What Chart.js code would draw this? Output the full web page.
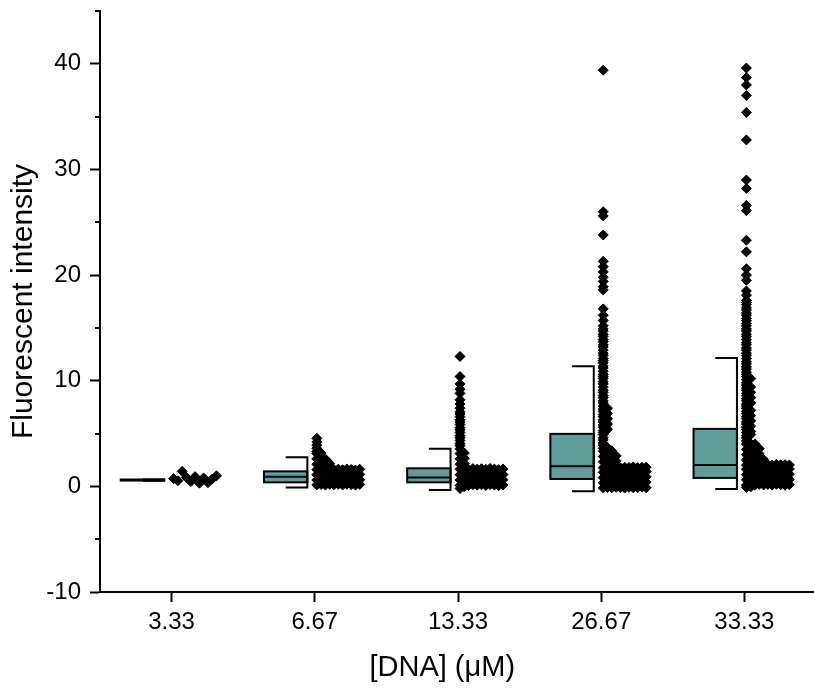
<!DOCTYPE html>
<html>
<head>
<meta charset="utf-8">
<script src="https://cdn.jsdelivr.net/npm/chart.js@4.4.0/dist/chart.umd.min.js"></script>
<style>
  html, body { margin: 0; padding: 0; background: #fff; overflow: hidden; }
  #wrap { width: 822px; height: 694px; }
</style>
</head>
<body>
<div id="wrap"><canvas id="chart"></canvas></div>
<script>
const categories = ["3.33", "6.67", "13.33", "26.67", "33.33"];

// box summary per concentration
const q1 = [0.55, 0.38, 0.38, 0.70, 0.80];
const median = [0.60, 0.92, 0.85, 1.90, 2.03];
const q3 = [0.65, 1.42, 1.71, 4.97, 5.44];
const whiskerLow = [0.52, -0.10, -0.34, -0.47, -0.25];
const whiskerHigh = [0.66, 2.75, 3.55, 11.36, 12.15];

// raw points
const pts333 = [0.73, 0.54, 1.42, 0.85, 0.45, 0.92, 0.3, 0.8, 0.35, 0.7, 1.0];

const pts667 = [
  0.14, 0.18, 0.12, 0.2, 0.15, 0.19, 0.13, 0.21, 0.16, 0.12, 0.18,
  0.6, 0.64, 0.58, 0.66, 0.61, 0.65, 0.59, 0.67, 0.62, 0.57, 0.63,
  1.1, 1.14, 1.08, 1.16, 1.11, 1.15, 1.09, 1.17, 1.12, 1.07, 1.13,
  1.58, 1.62, 1.56, 1.64, 1.59, 1.63, 1.57, 1.65, 1.6, 1.55, 1.61,
  2.1, 2.14, 2.08, 2.16,
  2.6, 2.64, 2.58,
  3.1, 3.15, 3.3, 3.6, 3.9, 4.2, 4.55
];

const pts1333 = [
  -0.2, -0.05,
  0.1, 0.14, 0.08, 0.16, 0.11, 0.15, 0.09, 0.17, 0.12, 0.07, 0.13,
  0.6, 0.64, 0.58, 0.66, 0.61, 0.65, 0.59, 0.67, 0.62, 0.57, 0.63,
  1.1, 1.14, 1.08, 1.16, 1.11, 1.15, 1.09, 1.17, 1.12, 1.07, 1.13,
  1.62, 1.66, 1.6, 1.68, 1.63, 1.67, 1.61, 1.7, 1.64, 1.59, 1.65,
  2.1, 2.15,
  2.6, 2.65,
  3.1, 3.15,
  3.55, 3.85, 4.05, 4.35, 4.6, 4.8, 5.1, 5.35, 5.55, 5.85, 6.1, 6.3, 6.6, 6.85, 7.05, 7.4,
  7.8, 8.2, 8.8, 9.2, 9.7, 10.4, 12.3
];

const pts2667 = [
  -0.15, -0.1, -0.13, -0.08, -0.12, -0.16, -0.09, -0.14, -0.11, -0.07, -0.13,
  0.33, 0.38, 0.35, 0.41, 0.34, 0.39, 0.36, 0.42, 0.32, 0.37, 0.4,
  0.83, 0.88, 0.85, 0.91, 0.84, 0.89, 0.86, 0.92, 0.82, 0.87, 0.9,
  1.33, 1.38, 1.35, 1.41, 1.34, 1.39, 1.36, 1.42, 1.32, 1.37, 1.4,
  1.77, 1.8, 1.78, 1.83, 1.76, 1.81, 1.79, 1.84, 1.77, 1.8, 1.82,
  2.33, 2.38, 2.36, 2.41,
  2.83, 2.88, 2.86, 2.9,
  3.33, 3.38, 3.36,
  3.6, 3.65,
  3.9, 4.1, 4.4, 4.6, 4.9, 5.1, 5.3, 5.4, 5.6, 5.8, 5.9, 6.1, 6.3, 6.4, 6.6, 6.8, 6.9,
  7.1, 7.3, 7.4, 7.6, 7.9, 8.1, 8.4, 8.6, 8.9, 9.1, 9.4, 9.7, 9.9, 10.2, 10.4, 10.6, 10.9,
  11.2, 11.4, 11.7, 11.9, 12.1, 12.4, 12.6, 12.9, 13.2, 13.4, 13.7, 13.9, 14.2, 14.4, 14.7, 14.9, 15.2,
  15.7, 16.2, 16.8, 18.6, 18.9, 19.4, 19.8, 20.3, 20.8, 21.3, 23.8, 25.6, 26.0, 39.4
];

const pts3333 = [
  -0.1, -0.05,
  0.13, 0.17, 0.11, 0.19, 0.14, 0.18, 0.12, 0.2, 0.15, 0.1, 0.16,
  0.62, 0.66, 0.6, 0.68, 0.63, 0.67, 0.61, 0.69, 0.64, 0.59, 0.65,
  1.12, 1.16, 1.1, 1.18, 1.13, 1.17, 1.11, 1.19, 1.14, 1.09, 1.15,
  1.62, 1.66, 1.6, 1.68, 1.63, 1.67, 1.61, 1.69, 1.64, 1.59, 1.65,
  2.02, 2.06, 2.0, 2.08, 2.03, 2.07, 2.01, 2.09, 2.04, 2.05, 2.03,
  2.5, 2.55, 2.52, 2.57, 2.54,
  3.0, 3.05, 3.02, 3.07,
  3.5, 3.55, 3.52, 3.57,
  4.0, 4.05, 4.02,
  4.3, 4.6, 4.8, 4.9, 5.1, 5.2, 5.4, 5.6, 5.7, 5.9, 6.1, 6.2, 6.4, 6.6, 6.7, 6.9, 7.1, 7.2, 7.4,
  7.6, 7.8, 7.9, 8.1, 8.3, 8.4, 8.6, 8.8, 8.9, 9.1, 9.3, 9.4, 9.6, 9.8, 10.1, 10.2, 10.4, 10.6, 10.8,
  11.1, 11.3, 11.6, 11.8, 12.1, 12.4, 12.6, 12.9, 13.1, 13.4, 13.6, 13.9, 14.2, 14.4, 14.7, 14.9,
  15.2, 15.4, 15.7, 15.9, 16.2, 16.4, 16.7, 16.9, 17.2, 17.4, 17.6,
  18.1, 18.5, 19.5, 20.0, 20.6, 22.2, 23.3, 26.1, 26.6, 28.2, 29.0, 32.8, 35.4, 37.0, 38.0, 38.7, 39.6
];

const groups = [pts333, pts667, pts1333, pts2667, pts3333];

// layout of the boxes and point columns, in category units
const BOX_LEFT = -0.355, BOX_RIGHT = -0.052, BOX_MID = -0.2035;
const X0 = 0.014, STEP = 0.03, CAP = 11;
const binWidths = [2, 0.25, 0.25, 0.25, 0.25];
const BOX_COLOR = "#609e9c";
const X_TITLE = "[DNA] (μM)";

// points with similar values sit side by side to the right of the box
const points = [];
groups.forEach((vals, i) => {
  const used = {};
  vals.forEach((v) => {
    const bin = Math.floor(v / binWidths[i]);
    const k = used[bin] = used[bin] === undefined ? 0 : used[bin] + 1;
    points.push({ x: i + 1 + X0 + (k % CAP) * STEP, y: v });
  });
});

const boxPlugin = {
  id: "boxes",
  beforeDatasetsDraw(chart) {
    const { ctx, scales: { x, y } } = chart;
    ctx.save();
    ctx.strokeStyle = "#000";
    ctx.lineWidth = 2;
    categories.forEach((c, i) => {
      const xl = x.getPixelForValue(i + 1 + BOX_LEFT);
      const xr = x.getPixelForValue(i + 1 + BOX_RIGHT);
      const xm = x.getPixelForValue(i + 1 + BOX_MID);
      const yTop = y.getPixelForValue(q3[i]);
      const yBot = y.getPixelForValue(q1[i]);
      const yMed = y.getPixelForValue(median[i]);
      const yHi = y.getPixelForValue(whiskerHigh[i]);
      const yLo = y.getPixelForValue(whiskerLow[i]);

      ctx.fillStyle = BOX_COLOR;
      ctx.fillRect(xl, yTop, xr - xl, yBot - yTop);
      ctx.strokeRect(xl, yTop, xr - xl, yBot - yTop);

      ctx.beginPath();
      ctx.moveTo(xl, yMed); ctx.lineTo(xr, yMed);
      // whisker bracket on the right edge
      ctx.moveTo(xm, yHi); ctx.lineTo(xr, yHi); ctx.lineTo(xr, yLo); ctx.lineTo(xm, yLo);
      ctx.stroke();
    });
    ctx.restore();
  }
};

// short minor ticks on y, and the x title sitting a bit left of centre
const axisExtras = {
  id: "axisExtras",
  afterDraw(chart) {
    const { ctx, scales: { x, y }, chartArea } = chart;
    ctx.save();
    ctx.strokeStyle = "#000";
    ctx.lineWidth = 2;
    y.ticks.forEach((t) => {
      if (t.value % 10 === 0) return;
      const py = Math.round(y.getPixelForValue(t.value));
      ctx.beginPath();
      ctx.moveTo(chartArea.left - 5, py);
      ctx.lineTo(chartArea.left, py);
      ctx.stroke();
    });
    ctx.fillStyle = "#000";
    ctx.font = "29px Arial, 'Liberation Sans', sans-serif";
    ctx.textAlign = "center";
    ctx.textBaseline = "middle";
    ctx.fillText(X_TITLE, x.getPixelForValue(2.89), chart.height - 26);
    ctx.restore();
  }
};

Chart.defaults.font.family = "Arial, 'Liberation Sans', sans-serif";
Chart.defaults.color = "#000";

new Chart(document.getElementById("chart"), {
  type: "scatter",
  data: {
    datasets: [{
      data: points,
      pointStyle: "rectRot",
      pointRadius: 5,
      backgroundColor: "#000",
      borderColor: "#000",
      borderWidth: 1
    }]
  },
  options: {
    responsive: true,
    maintainAspectRatio: false,
    animation: false,
    layout: { padding: { top: 11, right: 1, left: 0, bottom: 0 } },
    plugins: { legend: { display: false }, tooltip: { enabled: false } },
    scales: {
      x: {
        type: "linear",
        min: 0.5,
        max: 5.5,
        afterBuildTicks: (scale) => { scale.ticks = categories.map((c, i) => ({ value: i + 1 })); },
        afterFit: (scale) => { scale.height = 102; scale.paddingLeft = 0; scale.paddingRight = 0; },
        ticks: {
          font: { size: 24 },
          padding: 6,
          maxRotation: 0,
          callback: (v) => categories[v - 1]
        },
        grid: { drawOnChartArea: false, tickLength: 10, tickColor: "#000", tickWidth: 2 },
        border: { color: "#000", width: 2 }
      },
      y: {
        min: -10,
        max: 45,
        afterFit: (scale) => { scale.width = 100; scale.paddingTop = 0; scale.paddingBottom = 0; },
        ticks: {
          stepSize: 5,
          font: { size: 24 },
          padding: 9,
          callback: (v) => (v % 10 === 0 ? v : "")
        },
        grid: {
          drawOnChartArea: false,
          tickLength: 10,
          tickWidth: 2,
          tickColor: (c) => (c.tick && c.tick.value % 10 === 0 ? "#000" : "rgba(0,0,0,0)")
        },
        border: { color: "#000", width: 2 },
        title: { display: true, text: "Fluorescent intensity", font: { size: 30 }, padding: { top: 6, bottom: 0 } }
      }
    }
  },
  plugins: [boxPlugin, axisExtras]
});
</script>
</body>
</html>
